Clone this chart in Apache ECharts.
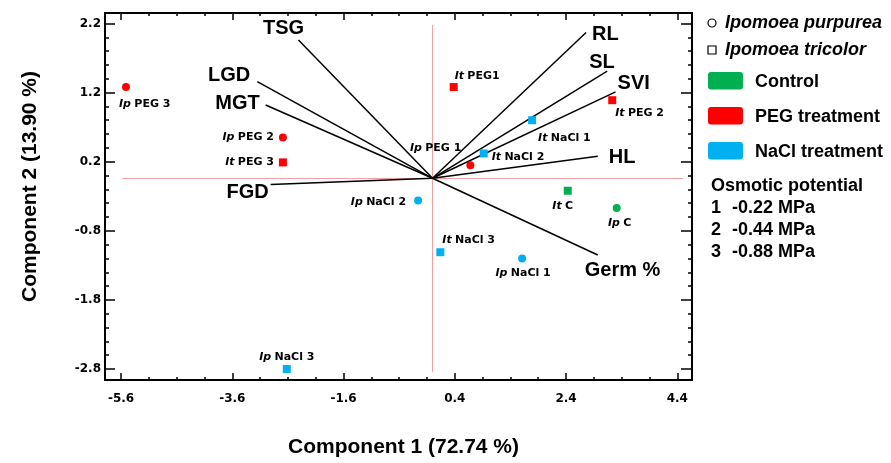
<!DOCTYPE html>
<html>
<head>
<meta charset="utf-8">
<script src="https://cdn.jsdelivr.net/npm/echarts@6/dist/echarts.min.js"></script>
<style>
  html, body { margin: 0; padding: 0; background: #fff; }
  #chart { width: 891px; height: 463px; }
</style>
</head>
<body>
<div id="chart"></div>
<script>
// PCA biplot of germination traits

const xTicks = [-5.6, -3.6, -1.6, 0.4, 2.4, 4.4];
const yTicks = [-2.8, -1.8, -0.8, 0.2, 1.2, 2.2];

// [label, component 1, component 2, treatment]
const purpureaScores = [
  ["PEG 3", -5.51, 1.28, "PEG"],
  ["PEG 2", -2.69, 0.55, "PEG"],
  ["PEG 1", 0.68, 0.15, "PEG"],
  ["C", 3.31, -0.47, "Control"],
  ["NaCl 1", 1.61, -1.2, "NaCl"],
  ["NaCl 2", -0.26, -0.36, "NaCl"],
  ["NaCl 3", -2.62, -2.8, "NaCl"],
];
const tricolorScores = [
  ["PEG1", 0.38, 1.28, "PEG"],
  ["PEG 2", 3.23, 1.09, "PEG"],
  ["PEG 3", -2.69, 0.19, "PEG"],
  ["C", 2.43, -0.22, "Control"],
  ["NaCl 1", 1.79, 0.8, "NaCl"],
  ["NaCl 2", 0.92, 0.32, "NaCl"],
  ["NaCl 3", 0.14, -1.11, "NaCl"],
];

// trait vectors: [label, component 1, component 2]
const loadingOrigin = [0, -0.04];
const loadings = [
  ["TSG", -2.41, 1.96],
  ["LGD", -3.15, 1.36],
  ["MGT", -3.0, 1.02],
  ["FGD", -2.91, -0.13],
  ["RL", 2.76, 2.07],
  ["SL", 3.14, 1.51],
  ["SVI", 3.29, 1.21],
  ["HL", 2.97, 0.28],
  ["Germ %", 2.97, -1.15],
];

// pink cross through the origin
const crossH = [[-5.58, -0.04], [4.5, -0.04]];
const crossV = [[0, 2.18], [0, -2.84]];

const treatments = ["Control", "PEG treatment", "NaCl treatment"];
const osmotic = [["1", "-0.22 MPa"], ["2", "-0.44 MPa"], ["3", "-0.88 MPa"]];

// ---- styling ----
const XMIN = -5.888, XMAX = 4.664;
const YMIN = -2.959, YMAX = 2.352;

const treatmentColor = { Control: "#00b050", PEG: "#ff0000", NaCl: "#00b0f0" };
const legendColor = ["#00b050", "#ff0000", "#00b0f0"];
// the figure draws this one as a square
const drawnAsSquare = ["Ip NaCl 3"];

// [align, dx, dy] of each label from its marker centre
const pointLabelSpot = {
  "Ip PEG 3": ["left", -7, 17],
  "Ip PEG 2": ["right", -9, 0],
  "It PEG 3": ["right", -9, 0],
  "It PEG1": ["left", 1, -11],
  "It PEG 2": ["left", 3, 13],
  "It NaCl 1": ["left", 6, 18],
  "It NaCl 2": ["left", 8, 4],
  "Ip PEG 1": ["right", -9, -17],
  "It C": ["center", -5, 15],
  "Ip C": ["center", 3, 15],
  "Ip NaCl 2": ["right", -12, 2],
  "It NaCl 3": ["left", 2, -12],
  "Ip NaCl 1": ["center", 1, 15],
  "Ip NaCl 3": ["center", 0, -12],
};
const vectorLabelSpot = {
  "TSG": ["center", -15, -12],
  "LGD": ["right", -7, -6],
  "MGT": ["right", -6, -2],
  "FGD": ["right", -2, 8],
  "RL": ["left", 6, 2],
  "SL": ["left", -18, -9],
  "SVI": ["left", 2, -8],
  "HL": ["left", 11, 1],
  "Germ %": ["left", -13, 15],
};

const tickFont = { fontFamily: '"DejaVu Sans"', fontWeight: "bold", fontSize: 12, color: "#000" };
const titleFont = { fontFamily: '"Liberation Sans", Arial', fontWeight: "bold", fontSize: 21, color: "#000" };
const LEGEND_FONT = '"Liberation Sans", Arial';

function minorValues(start, end, step, majors) {
  const out = [];
  for (let v = start; v <= end + 1e-9; v += step) {
    const r = Math.round(v * 10) / 10;
    if (!majors.some((m) => Math.abs(m - r) < 1e-6)) out.push(r);
  }
  return out;
}
const xMinor = minorValues(-5.6, 4.4, 0.5, xTicks);
const yMinor = minorValues(-2.8, 2.2, 0.2, yTicks);

function tickAxis(position, min, max, values, length, withLine) {
  return {
    type: "value",
    position: position,
    min: min,
    max: max,
    axisLine: { show: withLine, onZero: false, lineStyle: { color: "#000", width: 2 } },
    axisTick: { show: true, inside: true, length: length, customValues: values, lineStyle: { color: "#000", width: 1.5 } },
    axisLabel: { show: false },
    splitLine: { show: false },
  };
}

function scoreSeries(name, abbr, rows, symbol) {
  return {
    type: "scatter",
    name: name,
    symbol: symbol,
    symbolSize: 8,
    z: 5,
    itemStyle: { opacity: 1 },
    data: rows.map((r) => {
      const id = abbr + " " + r[0];
      const spot = pointLabelSpot[id];
      return {
        name: id,
        value: [r[1], r[2]],
        symbol: drawnAsSquare.includes(id) ? "rect" : symbol,
        itemStyle: { color: treatmentColor[r[3]], opacity: 1 },
        label: { align: spot[0], offset: [spot[1], spot[2]] },
      };
    }),
    label: {
      show: true,
      position: "inside",
      verticalAlign: "middle",
      formatter: (p) => "{sp|" + abbr + "} {nm|" + p.name.slice(3) + "}",
      rich: {
        sp: { fontFamily: '"DejaVu Sans"', fontStyle: "italic", fontWeight: "bold", fontSize: 11, color: "#000" },
        nm: { fontFamily: '"DejaVu Sans"', fontWeight: "bold", fontSize: 11, color: "#000" },
      },
    },
  };
}

const chart = echarts.init(document.getElementById("chart"), null, { renderer: "canvas" });

const legendGraphics = [
  { type: "circle", shape: { cx: 712, cy: 23, r: 4 }, style: { fill: "#fff", stroke: "#000", lineWidth: 1.2 } },
  { type: "text", x: 725, y: 23, style: { text: "Ipomoea purpurea", fontFamily: LEGEND_FONT, fontStyle: "italic", fontWeight: "bold", fontSize: 18, fill: "#000", verticalAlign: "middle" } },
  { type: "rect", shape: { x: 708, y: 46, width: 8, height: 8 }, style: { fill: "#fff", stroke: "#000", lineWidth: 1.2 } },
  { type: "text", x: 725, y: 50, style: { text: "Ipomoea tricolor", fontFamily: LEGEND_FONT, fontStyle: "italic", fontWeight: "bold", fontSize: 18, fill: "#000", verticalAlign: "middle" } },
];
treatments.forEach((t, i) => {
  const top = 72 + i * 35;
  legendGraphics.push(
    { type: "rect", shape: { x: 708, y: top, width: 35, height: 17.5, r: 3 }, style: { fill: legendColor[i] } },
    { type: "text", x: 755, y: top + 10.5, style: { text: t, fontFamily: LEGEND_FONT, fontWeight: "bold", fontSize: 18, fill: "#000", verticalAlign: "middle" } }
  );
});
legendGraphics.push({ type: "text", x: 711, y: 186, style: { text: "Osmotic potential", fontFamily: LEGEND_FONT, fontWeight: "bold", fontSize: 18, fill: "#000", verticalAlign: "middle" } });
osmotic.forEach((o, i) => {
  const y = 208 + i * 22;
  legendGraphics.push(
    { type: "text", x: 711, y: y, style: { text: o[0], fontFamily: LEGEND_FONT, fontWeight: "bold", fontSize: 18, fill: "#000", verticalAlign: "middle" } },
    { type: "text", x: 732, y: y, style: { text: o[1], fontFamily: LEGEND_FONT, fontWeight: "bold", fontSize: 18, fill: "#000", verticalAlign: "middle" } }
  );
});

chart.setOption({
  animation: false,
  backgroundColor: "#fff",
  grid: { left: 105, top: 13, right: 199, bottom: 83 },
  xAxis: [
    {
      type: "value",
      position: "bottom",
      min: XMIN,
      max: XMAX,
      axisLine: { show: true, onZero: false, lineStyle: { color: "#000", width: 2 } },
      axisTick: { show: true, inside: true, length: 7, customValues: xTicks, lineStyle: { color: "#000", width: 1.5 } },
      axisLabel: Object.assign({ customValues: xTicks, margin: 13, formatter: (v) => v.toFixed(1) }, tickFont),
      splitLine: { show: false },
      name: "Component 1 (72.74 %)",
      nameLocation: "middle",
      nameGap: 57,
      nameTextStyle: Object.assign({ padding: [0, 0, 0, 10] }, titleFont),
    },
    tickAxis("bottom", XMIN, XMAX, xMinor, 3, false),
    tickAxis("top", XMIN, XMAX, xTicks, 7, true),
    tickAxis("top", XMIN, XMAX, xMinor, 3, false),
  ],
  yAxis: [
    {
      type: "value",
      position: "left",
      min: YMIN,
      max: YMAX,
      axisLine: { show: true, onZero: false, lineStyle: { color: "#000", width: 2 } },
      axisTick: { show: true, inside: true, length: 10, customValues: yTicks, lineStyle: { color: "#000", width: 1.5 } },
      axisLabel: Object.assign({ customValues: yTicks, margin: 4, formatter: (v) => v.toFixed(1) }, tickFont),
      splitLine: { show: false },
      name: "Component 2 (13.90 %)",
      nameLocation: "middle",
      nameGap: 64,
      nameTextStyle: Object.assign({ padding: [0, 0, 0, 20] }, titleFont),
    },
    tickAxis("left", YMIN, YMAX, yMinor, 4, false),
    tickAxis("right", YMIN, YMAX, yTicks, 11, true),
    tickAxis("right", YMIN, YMAX, yMinor, 4, false),
  ],
  graphic: legendGraphics,
  series: [
    {
      type: "lines",
      coordinateSystem: "cartesian2d",
      silent: true,
      z: 1,
      lineStyle: { color: "#f5a0a0", width: 1, opacity: 1 },
      data: [{ coords: crossH }, { coords: crossV }],
    },
    {
      type: "lines",
      coordinateSystem: "cartesian2d",
      silent: true,
      z: 2,
      lineStyle: { color: "#000", width: 1.5, opacity: 1 },
      data: loadings.map((l) => ({ coords: [loadingOrigin, [l[1], l[2]]] })),
    },
    {
      type: "scatter",
      symbolSize: 1,
      silent: true,
      z: 3,
      itemStyle: { color: "rgba(0,0,0,0)", opacity: 1 },
      data: loadings.map((l) => {
        const spot = vectorLabelSpot[l[0]];
        return {
          name: l[0],
          value: [l[1], l[2]],
          label: { align: spot[0], offset: [spot[1], spot[2]] },
        };
      }),
      label: {
        show: true,
        position: "inside",
        verticalAlign: "middle",
        formatter: (p) => p.name,
        fontFamily: '"Liberation Sans", Arial',
        fontWeight: "bold",
        fontSize: 20,
        color: "#000",
      },
    },
    scoreSeries("Ipomoea purpurea", "Ip", purpureaScores, "circle"),
    scoreSeries("Ipomoea tricolor", "It", tricolorScores, "rect"),
  ],
});
</script>
</body>
</html>
